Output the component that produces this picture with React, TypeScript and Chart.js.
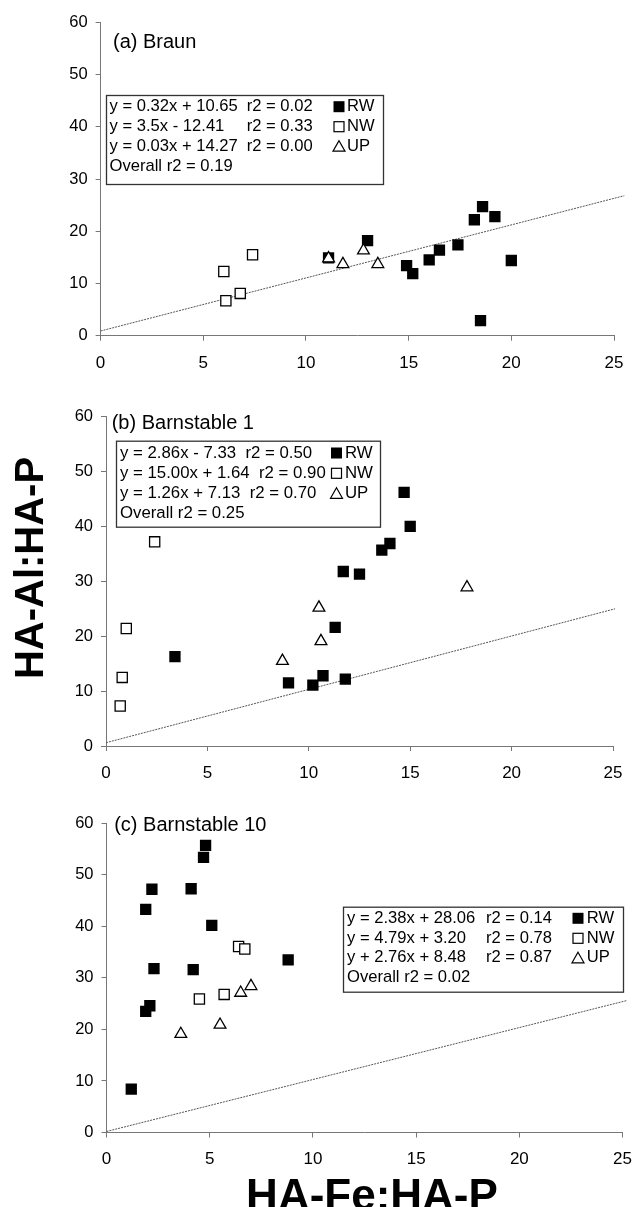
import React, { useEffect, useRef } from "react";
import { Chart, registerables } from "chart.js";
Chart.register(...registerables);

const FONT = "'Liberation Sans', Arial, Helvetica, sans-serif";

type Pt = [number, number];

// axis tick values
const xTicks = [0, 5, 10, 15, 20, 25];
const yTicks = [0, 10, 20, 30, 40, 50, 60];
const seriesNames = ["RW", "NW", "UP"];

// (a) Braun
const braunRW: Pt[] = [[11.1, 14.9], [13.0, 18.2], [14.9, 13.4], [15.2, 11.9], [16.0, 14.5], [16.5, 16.4], [17.4, 17.4], [18.2, 22.2], [18.6, 24.7], [19.2, 22.8], [20.0, 14.4], [18.5, 2.9]];
const braunNW: Pt[] = [[6.0, 12.3], [6.1, 6.7], [6.8, 8.1], [7.4, 15.5]];
const braunUP: Pt[] = [[11.1, 14.8], [11.8, 13.7], [12.8, 16.3], [13.5, 13.7]];
const braunLine: Pt[] = [[0, 0.9], [25.5, 26.8]];
const braunEq = ["y = 0.32x + 10.65", "y = 3.5x - 12.41", "y = 0.03x + 14.27", "Overall r2 = 0.19"];
const braunR2 = ["r2 = 0.02", "r2 = 0.33", "r2 = 0.00", ""];

// (b) Barnstable 1
const b1RW: Pt[] = [[3.4, 16.3], [9.0, 11.5], [10.2, 11.1], [10.7, 12.8], [11.3, 21.6], [11.8, 12.2], [11.7, 31.8], [12.5, 31.3], [13.6, 35.7], [14.0, 36.9], [14.7, 46.2], [15.0, 40.0]];
const b1NW: Pt[] = [[2.4, 37.2], [1.0, 21.4], [0.8, 12.5], [0.7, 7.3]];
const b1UP: Pt[] = [[8.7, 15.5], [10.6, 19.1], [10.5, 25.2], [17.8, 28.9]];
const b1Line: Pt[] = [[0, 0.6], [25.1, 25.0]];
const b1Eq = ["y = 2.86x - 7.33  r2 = 0.50", "y = 15.00x + 1.64  r2 = 0.90", "y = 1.26x + 7.13  r2 = 0.70", "Overall r2 = 0.25"];
const b1R2 = ["", "", "", ""];

// (c) Barnstable 10
const b10RW: Pt[] = [[1.2, 8.4], [1.9, 43.3], [2.2, 47.2], [1.9, 23.5], [2.1, 24.6], [2.3, 31.8], [4.1, 47.3], [4.2, 31.6], [4.7, 53.4], [4.8, 55.7], [5.1, 40.2], [8.8, 33.5]];
const b10NW: Pt[] = [[4.5, 25.9], [5.7, 26.8], [6.4, 36.1], [6.7, 35.6]];
const b10UP: Pt[] = [[3.6, 19.1], [5.5, 20.9], [6.5, 27.1], [7.0, 28.4]];
const b10Line: Pt[] = [[0, 0.2], [25.2, 25.6]];
const b10Eq = ["y = 2.38x + 28.06", "y = 4.79x + 3.20", "y + 2.76x + 8.48", "Overall r2 = 0.02"];
const b10R2 = ["r2 = 0.14", "r2 = 0.78", "r2 = 0.87", ""];

interface PanelStyle {
  top: number;
  height: number;
  left: number;
  right: number;
  areaTop: number;
  areaBottom: number;
  title: string;
  titleX: number;
  titleY: number;
  box: { x: number; y: number; w: number; h: number };
  lineY: number[];
  col1: number;
  col2: number;
  symX: number;
  labX: number;
  eqFont: number;
}

interface PanelData {
  rw: Pt[];
  nw: Pt[];
  up: Pt[];
  line: Pt[];
  eq: string[];
  r2: string[];
}

const W = 644;
const XAXIS_H = 42;

function toXY(p: Pt[]) {
  return p.map(([x, y]) => ({ x, y }));
}

function drawSymbol(ctx: CanvasRenderingContext2D, kind: number, x: number, cy: number) {
  ctx.save();
  ctx.lineWidth = 1.2;
  ctx.strokeStyle = "#000";
  if (kind === 0) {
    ctx.fillStyle = "#000";
    ctx.fillRect(x, cy - 5.5, 11, 11);
  } else if (kind === 1) {
    ctx.fillStyle = "#fff";
    ctx.fillRect(x + 0.5, cy - 5, 10, 10);
    ctx.strokeRect(x + 0.5, cy - 5, 10, 10);
  } else {
    ctx.fillStyle = "#fff";
    ctx.beginPath();
    ctx.moveTo(x + 5.5, cy - 5.5);
    ctx.lineTo(x + 11.5, cy + 5);
    ctx.lineTo(x - 0.5, cy + 5);
    ctx.closePath();
    ctx.fill();
    ctx.stroke();
  }
  ctx.restore();
}

function Panel({ s, d }: { s: PanelStyle; d: PanelData }) {
  const ref = useRef<HTMLCanvasElement | null>(null);
  useEffect(() => {
    if (!ref.current) return;
    const annot = {
      id: "annot",
      afterDatasetsDraw(chart: any) {
        const ctx: CanvasRenderingContext2D = chart.ctx;
        ctx.save();
        ctx.fillStyle = "#000";
        ctx.textAlign = "left";
        ctx.textBaseline = "middle";
        ctx.font = `20px ${FONT}`;
        ctx.fillText(s.title, s.titleX, s.titleY);
        const b = s.box;
        ctx.fillStyle = "#fff";
        ctx.fillRect(b.x, b.y, b.w, b.h);
        ctx.strokeStyle = "#333";
        ctx.lineWidth = 1.3;
        ctx.strokeRect(b.x + 0.5, b.y + 0.5, b.w, b.h);
        ctx.fillStyle = "#000";
        ctx.font = `${s.eqFont}px ${FONT}`;
        d.eq.forEach((t, i) => {
          ctx.fillText(t, s.col1, s.lineY[i]);
          if (d.r2[i]) ctx.fillText(d.r2[i], s.col2, s.lineY[i]);
        });
        seriesNames.forEach((n, i) => {
          drawSymbol(ctx, i, s.symX, s.lineY[i]);
          ctx.fillStyle = "#000";
          ctx.fillText(n, s.labX, s.lineY[i]);
        });
        ctx.restore();
      },
    };
    const axisCommon = {
      grid: { display: true, drawOnChartArea: false, drawTicks: true, tickLength: 5, color: "#777", lineWidth: 1 },
      border: { display: true, color: "#777", width: 1 },
    };
    const chart = new Chart(ref.current, {
      type: "scatter",
      data: {
        datasets: [
          {
            label: "RW",
            data: toXY(d.rw),
            pointStyle: "rect",
            pointRadius: 8,
            backgroundColor: "#000",
            borderColor: "#000",
            borderWidth: 0,
            order: 3,
          },
          {
            label: "NW",
            data: toXY(d.nw),
            pointStyle: "rect",
            pointRadius: 7.2,
            backgroundColor: "#fff",
            borderColor: "#000",
            borderWidth: 1.3,
            order: 2,
          },
          {
            label: "UP",
            data: toXY(d.up),
            pointStyle: "triangle",
            pointRadius: 6.8,
            backgroundColor: "#fff",
            borderColor: "#000",
            borderWidth: 1.3,
            order: 1,
          },
          {
            label: "1:1",
            data: toXY(d.line),
            showLine: true,
            pointRadius: 0,
            borderColor: "#555",
            borderWidth: 1,
            borderDash: [2, 1],
            clip: false as any,
            order: 4,
          } as any,
        ],
      },
      options: {
        animation: false,
        responsive: false,
        devicePixelRatio: 1,
        events: [],
        layout: {
          padding: {
            left: 0,
            top: s.areaTop,
            right: W - s.right,
            bottom: s.height - s.areaBottom - XAXIS_H,
          },
        },
        plugins: { legend: { display: false }, tooltip: { enabled: false } },
        scales: {
          x: {
            type: "linear",
            min: xTicks[0],
            max: xTicks[xTicks.length - 1],
            afterBuildTicks: (sc: any) => {
              sc.ticks = xTicks.map((v) => ({ value: v }));
            },
            afterFit: (sc: any) => {
              sc.height = XAXIS_H;
            },
            ticks: { color: "#000", font: { family: FONT, size: 17 }, padding: 12, maxRotation: 0 },
            ...axisCommon,
          },
          y: {
            type: "linear",
            min: yTicks[0],
            max: yTicks[yTicks.length - 1],
            afterBuildTicks: (sc: any) => {
              sc.ticks = yTicks.map((v) => ({ value: v }));
            },
            afterFit: (sc: any) => {
              sc.width = s.left;
            },
            ticks: { color: "#000", font: { family: FONT, size: 16.5 }, padding: 8 },
            ...axisCommon,
          },
        } as any,
      },
      plugins: [annot],
    } as any);
    return () => chart.destroy();
  }, []);
  return (
    <canvas
      ref={ref}
      width={W}
      height={s.height}
      style={{ position: "absolute", left: 0, top: s.top, width: W, height: s.height, display: "block" }}
    />
  );
}

const styleA: PanelStyle = {
  top: 0, height: 380, left: 100.6, right: 614, areaTop: 22.3, areaBottom: 335.7,
  title: "(a) Braun", titleX: 113, titleY: 42.5,
  box: { x: 106, y: 95, w: 277, h: 89 },
  lineY: [106.7, 126.7, 146.2, 166], col1: 109.5, col2: 246.7, symX: 333.5, labX: 347, eqFont: 16.6,
};
const styleB: PanelStyle = {
  top: 380, height: 410, left: 106, right: 613, areaTop: 36.7, areaBottom: 366,
  title: "(b) Barnstable 1", titleX: 111.7, titleY: 43.5,
  box: { x: 116, y: 60.7, w: 264, h: 86 },
  lineY: [73, 93.3, 113.3, 133.3], col1: 120, col2: 0, symX: 331, labX: 345, eqFont: 16.8,
};
const styleC: PanelStyle = {
  top: 790, height: 417, left: 106.5, right: 634.5, areaTop: 33.3, areaBottom: 342.5,
  title: "(c) Barnstable 10", titleX: 114.2, titleY: 35.5,
  box: { x: 343, y: 116.7, w: 280, h: 85 },
  lineY: [128.3, 148.3, 167.8, 187.7], col1: 347, col2: 486, symX: 572.5, labX: 586.7, eqFont: 16.6,
};

export default function App() {
  return (
    <div style={{ position: "absolute", left: 0, top: 0, width: W, height: 1207, overflow: "hidden", background: "#fff" }}>
      <Panel s={styleA} d={{ rw: braunRW, nw: braunNW, up: braunUP, line: braunLine, eq: braunEq, r2: braunR2 }} />
      <Panel s={styleB} d={{ rw: b1RW, nw: b1NW, up: b1UP, line: b1Line, eq: b1Eq, r2: b1R2 }} />
      <Panel s={styleC} d={{ rw: b10RW, nw: b10NW, up: b10UP, line: b10Line, eq: b10Eq, r2: b10R2 }} />
      <div
        style={{
          position: "absolute", left: 26.5 - 160, top: 567.5 - 20, width: 320, height: 40,
          lineHeight: "40px", textAlign: "center", transform: "rotate(-90deg)",
          font: `bold 40px ${FONT}`, color: "#000", whiteSpace: "nowrap",
        }}
      >
        HA-Al:HA-P
      </div>
      <div
        style={{
          position: "absolute", left: 372 - 200, top: 1169.5, width: 400, height: 44,
          lineHeight: "44px", textAlign: "center",
          font: `bold 44px ${FONT}`, color: "#000", whiteSpace: "nowrap",
        }}
      >
        HA-Fe:HA-P
      </div>
    </div>
  );
}
